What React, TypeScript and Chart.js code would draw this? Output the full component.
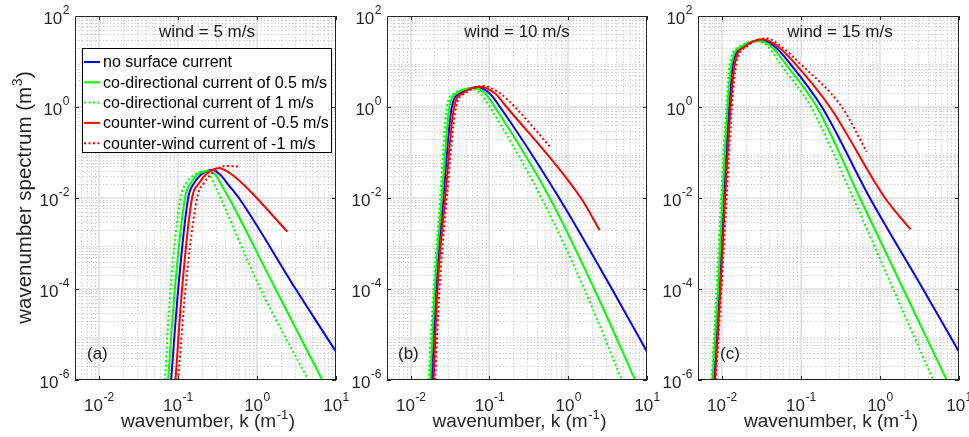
import React, { useEffect, useRef } from "react";
import { Chart, registerables } from "chart.js";

Chart.register(...registerables);

const FONT = '"Liberation Sans", Arial, Helvetica, sans-serif';
const AXIS_COLOR = "#262626";
const W = 969;
const H = 437;

// ---- series meta ----
const seriesLabels = [
  "no surface current",
  "co-directional current of 0.5 m/s",
  "co-directional current of 1 m/s",
  "counter-wind current of -0.5 m/s",
  "counter-wind current of -1 m/s",
];
const seriesColors = ["#0000ff", "#00ff00", "#00ff00", "#ff0000", "#ff0000"];
const seriesDotted = [false, false, true, false, true];

// ---- axes ----
const xTickExponents = [-2, -1, 0, 1];
const yTickExponents = [-6, -4, -2, 0, 2];
const xMin = 0.005;
const xMax = 10;
const yMin = 1e-6;
const yMax = 100;

const windTitles = ["wind = 5 m/s", "wind = 10 m/s", "wind = 15 m/s"];
const panelTags = ["(a)", "(b)", "(c)"];
const xAxisTitle = ["wavenumber, k (m", "-1", ")"];
const yAxisTitle = ["wavenumber spectrum (m", "3", ")"];

type Pt = [number, number];

// ---- panel (a): wind 5 m/s  [k, S] ----
const aNone: Pt[] = [[0.0822, 1e-6], [0.101, 1e-4], [0.135, 0.01], [0.16, 0.021], [0.194, 0.032], [0.272, 0.0412], [0.347, 0.032], [0.421, 0.021], [0.592, 0.01], [3.09, 1e-4], [10, 4.2e-6]];
const aCo05: Pt[] = [[0.0753, 1e-6], [0.0916, 1e-4], [0.123, 0.01], [0.145, 0.021], [0.175, 0.032], [0.242, 0.0398], [0.3, 0.032], [0.347, 0.021], [0.443, 0.01], [1.72, 1e-4], [6.71, 1e-6]];
const aCo1: Pt[] = [[0.0684, 1e-6], [0.0807, 1e-4], [0.108, 0.01], [0.127, 0.021], [0.16, 0.032], [0.207, 0.0385], [0.254, 0.032], [0.286, 0.021], [0.347, 0.01], [1.11, 1e-4], [4.47, 1e-6]];
const aCt05: Pt[] = [[0.0933, 1e-6], [0.113, 1e-4], [0.151, 0.01], [0.185, 0.021], [0.235, 0.0349], [0.331, 0.0449], [0.49, 0.032], [0.794, 0.015], [2.42, 1.82e-3]];
const aCt1: Pt[] = [[0.101, 1e-6], [0.125, 1e-4], [0.175, 0.01], [0.213, 0.021], [0.286, 0.038], [0.402, 0.0505], [0.604, 0.049]];

// ---- panel (b): wind 10 m/s ----
const bNone: Pt[] = [[0.0186, 1e-6], [0.021, 1e-4], [0.026, 0.01], [0.0332, 1], [0.0424, 2.0], [0.0701, 2.71], [0.1, 2.0], [0.136, 1], [0.766, 0.01], [3.59, 1e-4], [10, 4.2e-6]];
const bCo05: Pt[] = [[0.0177, 1e-6], [0.0202, 1e-4], [0.0248, 0.01], [0.031, 1], [0.0385, 2.0], [0.0637, 2.57], [0.0877, 2.0], [0.117, 1], [0.583, 0.01], [2.14, 1e-4], [7.08, 1e-6]];
const bCo1: Pt[] = [[0.0168, 1e-6], [0.0195, 1e-4], [0.0236, 0.01], [0.0287, 1], [0.0355, 2.0], [0.0578, 2.49], [0.0759, 2.0], [0.101, 1], [0.457, 0.01], [1.6, 1e-4], [4.79, 1e-6]];
const bCt05: Pt[] = [[0.0195, 1e-6], [0.0219, 1e-4], [0.0274, 0.01], [0.0355, 1], [0.0457, 2.0], [0.0759, 2.8], [0.117, 2.0], [0.165, 1], [1.45, 0.01], [2.51, 1.95e-3]];
const bCt1: Pt[] = [[0.0204, 1e-6], [0.0232, 1e-4], [0.0287, 0.01], [0.0377, 1], [0.049, 2.0], [0.0836, 2.9], [0.136, 2.0], [0.21, 1], [0.612, 0.124]];

// ---- panel (c): wind 15 m/s ----
const cNone: Pt[] = [[0.00794, 1e-6], [0.00925, 1e-4], [0.0106, 0.01], [0.0124, 1], [0.0139, 9.12], [0.0186, 21.1], [0.0318, 29.7], [0.0469, 21.1], [0.0726, 9.12], [0.1845, 1], [0.746, 0.01], [3.5, 1e-4], [10, 4.2e-6]];
const cCo05: Pt[] = [[0.00762, 1e-6], [0.00899, 1e-4], [0.0102, 0.01], [0.0118, 1], [0.0133, 9.12], [0.0177, 21.1], [0.0303, 28.2], [0.0426, 21.1], [0.0631, 9.12], [0.1595, 1], [0.558, 0.01], [1.97, 1e-4], [6.98, 1e-6]];
const cCo1: Pt[] = [[0.00741, 1e-6], [0.00857, 1e-4], [0.0098, 0.01], [0.0114, 1], [0.0126, 9.12], [0.0166, 21.1], [0.028, 27.2], [0.0385, 21.1], [0.0542, 9.12], [0.134, 1], [0.459, 0.01], [1.47, 1e-4], [4.73, 1e-6]];
const cCt05: Pt[] = [[0.00822, 1e-6], [0.00962, 1e-4], [0.011, 0.01], [0.0129, 1], [0.0146, 9.12], [0.0195, 21.1], [0.0333, 30.7], [0.0516, 21.1], [0.0839, 9.12], [0.233, 1], [1.16, 0.01], [2.44, 2.04e-3]];
const cCt1: Pt[] = [[0.00839, 1e-6], [0.00991, 1e-4], [0.0115, 0.01], [0.0134, 1], [0.0153, 9.12], [0.0206, 21.1], [0.0368, 32.4], [0.057, 21.1], [0.097, 9.12], [0.33, 1], [0.678, 0.104]];

const panelSeries: Pt[][][] = [
  [aNone, aCo05, aCo1, aCt05, aCt1],
  [bNone, bCo05, bCo1, bCt05, bCt1],
  [cNone, cCo05, cCo1, cCt05, cCt1],
];

// ---- layout (pixels) ----
const PLOT_TOP = 16;
const PLOT_BOTTOM = 380;
const panelLayouts = [
  { left: 75, right: 336, titleDx: 132, tagDx: 12, legend: true, yTitle: true },
  { left: 387, right: 647, titleDx: 130, tagDx: 11, legend: false, yTitle: false },
  { left: 698, right: 959, titleDx: 142, tagDx: 22, legend: false, yTitle: false },
];

const TICK_FONT = `17px ${FONT}`;
const TICK_EXP_FONT = `12px ${FONT}`;
const LABEL_FONT = `19px ${FONT}`;
const LABEL_EXP_FONT = `13px ${FONT}`;
const YLABEL_FONT = `20.5px ${FONT}`;
const YLABEL_EXP_FONT = `14px ${FONT}`;
const TITLE_FONT = `17px ${FONT}`;
const LEGEND_FONT = `16px ${FONT}`;

function drawPow(ctx: CanvasRenderingContext2D, parts: string[], x: number, y: number, align: "center" | "right" | "left", baseFont: string, expFont: string, rise: number) {
  ctx.font = baseFont;
  const w0 = ctx.measureText(parts[0]).width;
  const w2 = parts[2] ? ctx.measureText(parts[2]).width : 0;
  ctx.font = expFont;
  const w1 = ctx.measureText(parts[1]).width;
  const total = w0 + w1 + w2;
  let left = x;
  if (align === "center") left = x - total / 2;
  else if (align === "right") left = x - total;
  ctx.textAlign = "left";
  ctx.textBaseline = "alphabetic";
  ctx.font = baseFont;
  ctx.fillText(parts[0], left, y);
  ctx.font = expFont;
  ctx.fillText(parts[1], left + w0 + 0.5, y - rise);
  if (parts[2]) {
    ctx.font = baseFont;
    ctx.fillText(parts[2], left + w0 + w1 + 1, y);
  }
}

function decorPlugin(p: number) {
  const lay = panelLayouts[p];
  return {
    id: "decor" + p,
    beforeDatasetsDraw(chart: any) {
      const { ctx, chartArea: ca } = chart;
      const xs = chart.scales.x;
      const ys = chart.scales.y;
      ctx.save();
      // minor grid (dotted)
      ctx.lineWidth = 1;
      ctx.strokeStyle = "#d2d2d2";
      ctx.setLineDash([1.5, 2]);
      ctx.beginPath();
      for (let e = -3; e <= 1; e++) {
        for (let m = 2; m <= 9; m++) {
          const v = m * Math.pow(10, e);
          if (v <= xMin * 1.0001 || v >= xMax) continue;
          const px = Math.round(xs.getPixelForValue(v)) + 0.5;
          ctx.moveTo(px, ca.top);
          ctx.lineTo(px, ca.bottom);
        }
      }
      for (let e = -6; e <= 1; e++) {
        for (let m = 2; m <= 9; m++) {
          const v = m * Math.pow(10, e);
          if (v <= yMin || v >= yMax) continue;
          const py = Math.round(ys.getPixelForValue(v)) + 0.5;
          ctx.moveTo(ca.left, py);
          ctx.lineTo(ca.right, py);
        }
      }
      ctx.stroke();
      // major grid
      ctx.setLineDash([]);
      ctx.strokeStyle = "#dedede";
      ctx.lineWidth = 1.5;
      ctx.beginPath();
      for (const e of xTickExponents) {
        const v = Math.pow(10, e);
        if (v <= xMin || v >= xMax) continue;
        const px = Math.round(xs.getPixelForValue(v));
        ctx.moveTo(px, ca.top);
        ctx.lineTo(px, ca.bottom);
      }
      for (const e of yTickExponents) {
        const v = Math.pow(10, e);
        if (v <= yMin || v >= yMax) continue;
        const py = Math.round(ys.getPixelForValue(v));
        ctx.moveTo(ca.left, py);
        ctx.lineTo(ca.right, py);
      }
      ctx.stroke();
      ctx.restore();
    },
    afterDatasetsDraw(chart: any) {
      const { ctx, chartArea: ca } = chart;
      const xs = chart.scales.x;
      const ys = chart.scales.y;
      ctx.save();
      // box
      ctx.strokeStyle = AXIS_COLOR;
      ctx.lineWidth = 1;
      ctx.strokeRect(Math.round(ca.left) + 0.5, Math.round(ca.top) + 0.5, Math.round(ca.right - ca.left) - 1, Math.round(ca.bottom - ca.top) - 1);
      // major ticks inside, all sides
      ctx.beginPath();
      const TL = 4;
      for (const e of xTickExponents) {
        const px = Math.round(xs.getPixelForValue(Math.pow(10, e))) + 0.5;
        ctx.moveTo(px, ca.bottom);
        ctx.lineTo(px, ca.bottom - TL);
        ctx.moveTo(px, ca.top);
        ctx.lineTo(px, ca.top + TL);
      }
      for (const e of yTickExponents) {
        const py = Math.round(ys.getPixelForValue(Math.pow(10, e))) + 0.5;
        ctx.moveTo(ca.left, py);
        ctx.lineTo(ca.left + TL, py);
        ctx.moveTo(ca.right, py);
        ctx.lineTo(ca.right - TL, py);
      }
      ctx.stroke();

      // tick labels
      ctx.fillStyle = AXIS_COLOR;
      for (const e of xTickExponents) {
        const px = xs.getPixelForValue(Math.pow(10, e));
        drawPow(ctx, ["10", String(e), ""], px, ca.bottom + 30.5, "center", TICK_FONT, TICK_EXP_FONT, 10);
      }
      for (const e of yTickExponents) {
        const py = ys.getPixelForValue(Math.pow(10, e));
        drawPow(ctx, ["10", String(e), ""], ca.left - 6, py + 8, "right", TICK_FONT, TICK_EXP_FONT, 10);
      }

      // x axis title
      drawPow(ctx, xAxisTitle, (ca.left + ca.right) / 2 + 2, 427, "center", LABEL_FONT, LABEL_EXP_FONT, 8);

      // y axis title
      if (lay.yTitle) {
        ctx.save();
        ctx.translate(31, (ca.top + ca.bottom) / 2);
        ctx.rotate(-Math.PI / 2);
        drawPow(ctx, yAxisTitle, 0, 0, "center", YLABEL_FONT, YLABEL_EXP_FONT, 9);
        ctx.restore();
      }

      // panel title
      ctx.fillStyle = "#1a1a1a";
      ctx.font = TITLE_FONT;
      ctx.textAlign = "center";
      ctx.textBaseline = "alphabetic";
      ctx.fillText(windTitles[p], ca.left + lay.titleDx, 37);

      // panel tag
      ctx.textAlign = "left";
      ctx.fillText(panelTags[p], ca.left + lay.tagDx, 359);

      // legend
      if (lay.legend) {
        const lx = ca.left + 7;
        const ly = 48;
        const lw = 249;
        const lh = 104;
        ctx.fillStyle = "#ffffff";
        ctx.fillRect(lx, ly, lw, lh);
        ctx.strokeStyle = "#000000";
        ctx.lineWidth = 1;
        ctx.strokeRect(lx + 0.5, ly + 0.5, lw, lh);
        const dsets = chart.data.datasets;
        ctx.font = LEGEND_FONT;
        ctx.textBaseline = "middle";
        ctx.textAlign = "left";
        dsets.forEach((ds: any, i: number) => {
          const ry = ly + 14 + i * 20.3;
          ctx.strokeStyle = ds.borderColor;
          ctx.lineWidth = 2;
          ctx.setLineDash(ds.borderDash || []);
          ctx.beginPath();
          ctx.moveTo(lx + 2, ry);
          ctx.lineTo(lx + 18, ry);
          ctx.stroke();
          ctx.setLineDash([]);
          ctx.fillStyle = "#000000";
          ctx.fillText(ds.label, lx + 21, ry + 1);
        });
      }
      ctx.restore();
    },
  };
}

function Panel({ index }: { index: number }) {
  const ref = useRef<HTMLCanvasElement>(null);
  useEffect(() => {
    const lay = panelLayouts[index];
    const series = panelSeries[index];
    const chart = new Chart(ref.current as HTMLCanvasElement, {
      type: "line",
      data: {
        datasets: series.map((pts, i) => ({
          label: seriesLabels[i],
          data: pts.map(([x, y]) => ({ x, y })),
          borderColor: seriesColors[i],
          backgroundColor: seriesColors[i],
          borderWidth: 2,
          borderDash: seriesDotted[i] ? [2, 2.5] : [],
          pointRadius: 0,
          fill: false,
          cubicInterpolationMode: "monotone",
          order: series.length - i,
        })),
      },
      options: {
        responsive: false,
        animation: false,
        devicePixelRatio: 1,
        events: [],
        layout: {
          padding: { left: lay.left, right: W - lay.right, top: PLOT_TOP, bottom: H - PLOT_BOTTOM },
        },
        plugins: {
          legend: { display: false },
          tooltip: { enabled: false },
          title: { display: false },
        },
        scales: {
          x: { type: "logarithmic", min: xMin, max: xMax, display: false },
          y: { type: "logarithmic", min: yMin, max: yMax, display: false },
        },
      } as any,
      plugins: [decorPlugin(index)],
    });
    return () => chart.destroy();
  }, [index]);
  return (
    <canvas
      ref={ref}
      width={W}
      height={H}
      style={{ position: "absolute", left: 0, top: 0, width: W, height: H }}
    />
  );
}

export default function App() {
  return (
    <div style={{ position: "fixed", left: 0, top: 0, width: W, height: H, background: "#ffffff", overflow: "hidden" }}>
      <Panel index={0} />
      <Panel index={1} />
      <Panel index={2} />
    </div>
  );
}
